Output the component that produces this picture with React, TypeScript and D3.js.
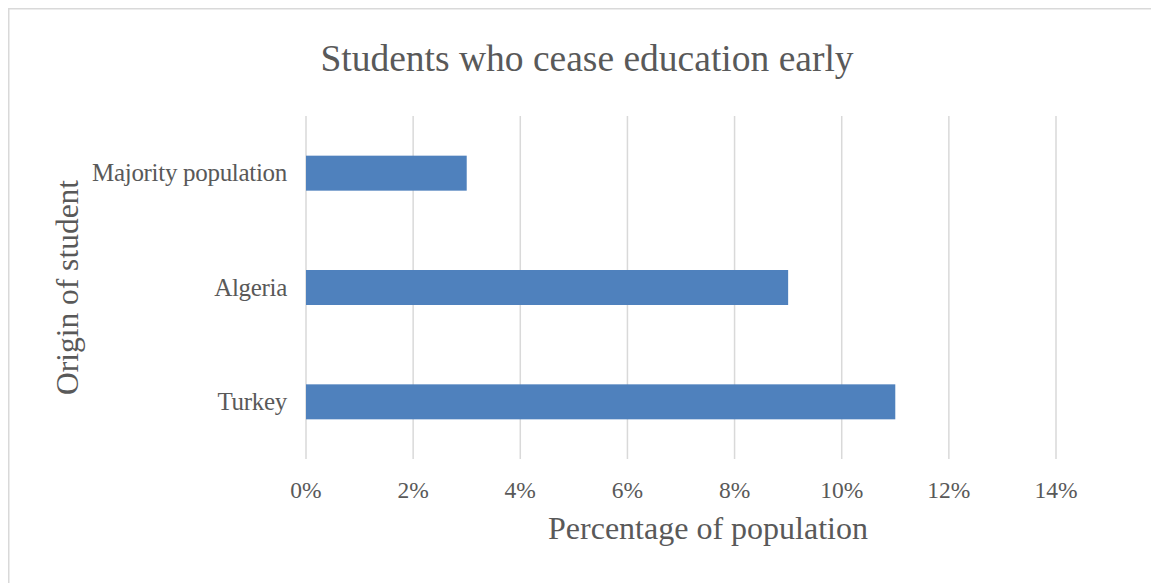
import React from "react";
import * as d3 from "d3";

const categories = ["Majority population", "Algeria", "Turkey"];
const values = [3, 9, 11];
const tickValues = [0, 2, 4, 6, 8, 10, 12, 14];
const title = "Students who cease education early";
const xTitle = "Percentage of population";
const yTitle = "Origin of student";

export default function App() {
  const W = 1151;
  const H = 575;
  const left = 298;
  const right = 1048;
  const top = 108;
  const bottom = 451;
  const x = d3.scaleLinear().domain([0, 14]).range([left, right]);
  const y = d3.scaleBand<string>().domain(categories).range([top, bottom]).paddingInner(0.694).paddingOuter(0.347);
  const font = "'Liberation Serif', 'Times New Roman', serif";
  const textColor = "#595959";
  return (
    <svg width={W} height={H} style={{ display: "block", overflow: "hidden" }} fontFamily={font}>
      <rect x={0} y={0} width={W} height={H} fill="#fff" />
      <rect x={0.75} y={0.75} width={W + 50} height={H + 50} fill="none" stroke="#d9d9d9" strokeWidth={1.5} />
      <text x={579} y={63} textAnchor="middle" fontSize={37.5} fill={textColor}>{title}</text>
      {tickValues.map((t) => (
        <g key={t}>
          <line x1={x(t)} x2={x(t)} y1={top} y2={bottom} stroke="#d9d9d9" strokeWidth={1.5} />
          <text x={x(t)} y={490} textAnchor="middle" fontSize={23.5} fill={textColor}>{`${t}%`}</text>
        </g>
      ))}
      {categories.map((c, i) => (
        <g key={c}>
          <rect x={x(0)} y={y(c)!} width={x(values[i]) - x(0)} height={y.bandwidth()} fill="#4f81bd" />
          <text x={279} y={y(c)! + y.bandwidth() / 2} dy="0.33em" textAnchor="end" fontSize={25} letterSpacing={-0.3} fill={textColor}>{c}</text>
        </g>
      ))}
      <text x={700} y={531} textAnchor="middle" fontSize={32} fill={textColor}>{xTitle}</text>
      <text transform={`translate(70, ${(top + bottom) / 2}) rotate(-90)`} textAnchor="middle" fontSize={31.5} fill={textColor}>{yTitle}</text>
    </svg>
  );
}
